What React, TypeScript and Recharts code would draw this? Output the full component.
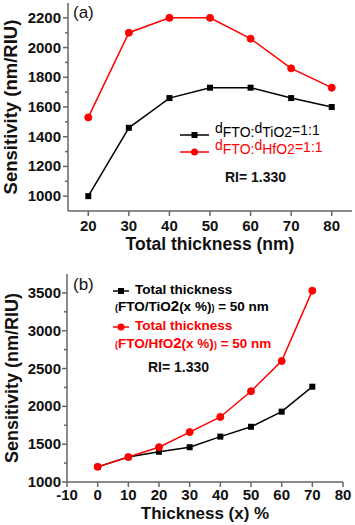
import { LineChart, Line, XAxis, YAxis, Legend } from "recharts";

const RED = "#ff0000";
const BLACK = "#000000";
const FRAME = "#666666";
const FONT = '"Liberation Sans", Arial, Helvetica, sans-serif';

// ─── (a) sensitivity vs total thickness ──────────────────────────────────
const thicknessA = [20, 30, 40, 50, 60, 70, 80];
const sensTiO2A = [1000, 1460, 1660, 1730, 1730, 1660, 1600];
const sensHfO2A = [1530, 2100, 2200, 2200, 2060, 1860, 1730];
const xTicksA = [20, 30, 40, 50, 60, 70, 80];
const yMajorA = [1000, 1200, 1400, 1600, 1800, 2000, 2200];
const yMinorA = [1100, 1300, 1500, 1700, 1900, 2100];

// ─── (b) sensitivity vs oxide fraction ───────────────────────────────────
const fractionB = [0, 10, 20, 30, 40, 50, 60, 70];
const sensTiO2B = [1200, 1330, 1400, 1460, 1600, 1730, 1930, 2260];
const sensHfO2B = [1200, 1330, 1460, 1660, 1860, 2200, 2600, 3530];
const xTicksB = [-10, 0, 10, 20, 30, 40, 50, 60, 70, 80];
const yMajorB = [1000, 1500, 2000, 2500, 3000, 3500];
const yMinorB = [1250, 1750, 2250, 2750, 3250];

const rowsA = thicknessA.map((x, i) => ({ x, tio2: sensTiO2A[i], hfo2: sensHfO2A[i] }));
const rowsB = fractionB.map((x, i) => ({ x, tio2: sensTiO2B[i], hfo2: sensHfO2B[i] }));

function SquareDot(props: any) {
  const { cx, cy, index } = props;
  return <rect key={`sq-${index}`} x={cx - 3} y={cy - 3} width={6} height={6} fill={BLACK} />;
}

function makeXTick(majors: number[], gap: number) {
  return function XTick(props: any) {
    const { x, y, payload } = props;
    const major = majors.includes(payload.value);
    return (
      <g>
        <line x1={x} x2={x} y1={y} y2={y + (major ? 5 : 3)} stroke={FRAME} strokeWidth={1.5} />
        {major && (
          <text x={x} y={y + gap} textAnchor="middle" fontFamily={FONT} fontWeight="bold" fontSize={15} fill="#111">
            {payload.value}
          </text>
        )}
      </g>
    );
  };
}

function makeYTick(majors: number[], gap: number) {
  return function YTick(props: any) {
    const { x, y, payload } = props;
    const major = majors.includes(payload.value);
    return (
      <g>
        <line x1={x} x2={x - (major ? 5 : 3)} y1={y} y2={y} stroke={FRAME} strokeWidth={1.5} />
        {major && (
          <text x={x - gap} y={y + 5} textAnchor="end" fontFamily={FONT} fontWeight="bold" fontSize={15} fill="#111">
            {payload.value}
          </text>
        )}
      </g>
    );
  };
}

function xTitle(text: string, gap: number, size: number) {
  return (props: any) => {
    const { x, y, width } = props.viewBox;
    return (
      <text x={x + width / 2} y={y + gap} textAnchor="middle" fontFamily={FONT} fontWeight="bold" fontSize={size} fill="#111">
        {text}
      </text>
    );
  };
}

function yTitle(text: string, dx: number, size: number) {
  return (props: any) => {
    const { x, y, height } = props.viewBox;
    return (
      <text
        transform={`translate(${x + dx}, ${y + height / 2}) rotate(-90)`}
        textAnchor="middle"
        fontFamily={FONT}
        fontWeight="bold"
        fontSize={size}
        fill="#111"
      >
        {text}
      </text>
    );
  };
}

function Marker({ color, shape, w }: { color: string; shape: "square" | "circle"; w: number }) {
  return (
    <svg width={w} height={10} style={{ display: "block" }}>
      <line x1={0} x2={w} y1={5} y2={5} stroke={color} strokeWidth={1.5} />
      {shape === "square" ? (
        <rect x={w / 2 - 3} y={2} width={6} height={6} fill={color} />
      ) : (
        <circle cx={w / 2} cy={5} r={3.5} fill={color} />
      )}
    </svg>
  );
}

const abs = (left: number, top: number, extra: any = {}) => ({
  position: "absolute" as const,
  left,
  top,
  whiteSpace: "nowrap" as const,
  lineHeight: "18px",
  ...extra,
});

// legend + annotations for (a)
function LegendA() {
  const ratio = (oxide: string) => (
    <>
      <span style={{ position: "relative", top: -4 }}>d</span>FTO:
      <span style={{ position: "relative", top: -4 }}>d</span>
      {oxide}
      <span style={{ position: "relative", top: -2 }}>=1:1</span>
    </>
  );
  return (
    <div style={{ position: "relative", width: 355, height: 260, fontFamily: FONT }}>
      <div style={abs(73, 3, { fontSize: 17, lineHeight: "20px", color: "#111" })}>(a)</div>
      <div style={abs(180, 130)}>
        <Marker color={BLACK} shape="square" w={29} />
      </div>
      <div style={abs(215, 124, { fontSize: 14, lineHeight: "16px", color: BLACK })}>{ratio("TiO2")}</div>
      <div style={abs(180, 147)}>
        <Marker color={RED} shape="circle" w={29} />
      </div>
      <div style={abs(215, 141, { fontSize: 14, lineHeight: "16px", color: RED })}>{ratio("HfO2")}</div>
      <div style={abs(225, 168, { fontSize: 14, fontWeight: "bold", color: "#111" })}>RI= 1.330</div>
    </div>
  );
}

// legend + annotations for (b)
function LegendB() {
  const composition = (oxide: string) => (
    <>
      <span style={{ fontSize: 9 }}>(</span>FTO/{oxide}
      <span style={{ fontSize: 15 }}>2</span>(x %)<span style={{ fontSize: 9 }}>)</span> = 50 nm
    </>
  );
  const row = (left: number, top: number, color: string) => abs(left, top, { color, lineHeight: "14px" });
  return (
    <div style={{ position: "relative", width: 355, height: 265, fontFamily: FONT, fontWeight: "bold", fontSize: 13.5 }}>
      <div style={abs(73, 15, { fontSize: 17, fontWeight: "normal", lineHeight: "20px", color: "#111" })}>(b)</div>
      <div style={abs(113, 26)}>
        <Marker color={BLACK} shape="square" w={16} />
      </div>
      <div style={row(135, 23, BLACK)}>Total thickness</div>
      <div style={row(115, 39, BLACK)}>{composition("TiO")}</div>
      <div style={abs(113, 62)}>
        <Marker color={RED} shape="circle" w={16} />
      </div>
      <div style={row(135, 59, RED)}>Total thickness</div>
      <div style={row(115, 76, RED)}>{composition("HfO")}</div>
      <div style={abs(148, 98, { fontSize: 14, color: "#111" })}>RI= 1.330</div>
    </div>
  );
}

export default function App() {
  return (
    <div style={{ position: "absolute", left: 0, top: 0, width: 355, height: 525, background: "#fff" }}>
      <LineChart width={355} height={260} data={rowsA} margin={{ top: 3, right: 3, bottom: 0, left: 0 }}>
        <XAxis
          dataKey="x"
          type="number"
          domain={[15, 85]}
          ticks={xTicksA}
          interval={0}
          height={49}
          tickSize={0}
          tickMargin={0}
          tickLine={false}
          tick={makeXTick(xTicksA, 20)}
          axisLine={{ stroke: FRAME, strokeWidth: 1.5 }}
          label={xTitle("Total thickness (nm)", 39, 17.5)}
        />
        <XAxis xAxisId="top" orientation="top" type="number" domain={[15, 85]} height={0} tick={false} tickLine={false} axisLine={{ stroke: FRAME, strokeWidth: 1.5 }} />
        <YAxis
          type="number"
          domain={[900, 2300]}
          ticks={[...yMajorA, ...yMinorA].sort((a, b) => a - b)}
          interval={0}
          width={68}
          tickSize={0}
          tickMargin={0}
          tickLine={false}
          tick={makeYTick(yMajorA, 7)}
          axisLine={{ stroke: FRAME, strokeWidth: 1.5 }}
          label={yTitle("Sensitivity (nm/RIU)", 17, 18.5)}
        />
        <YAxis yAxisId="right" orientation="right" type="number" domain={[900, 2300]} width={0} tick={false} tickLine={false} axisLine={{ stroke: FRAME, strokeWidth: 1.5 }} />
        <Legend verticalAlign="middle" align="center" wrapperStyle={{ left: 0, top: 0, width: 355, height: 260 }} content={() => <LegendA />} />
        <Line dataKey="tio2" stroke={BLACK} strokeWidth={1.5} dot={(p: any) => <SquareDot {...p} />} isAnimationActive={false} />
        <Line dataKey="hfo2" stroke={RED} strokeWidth={1.5} dot={{ r: 3.5, fill: RED, stroke: RED, strokeWidth: 1 }} isAnimationActive={false} />
      </LineChart>
      <LineChart width={355} height={265} data={rowsB} margin={{ top: 14, right: 12, bottom: 0, left: 0 }}>
        <XAxis
          dataKey="x"
          type="number"
          domain={[-10, 80]}
          ticks={xTicksB}
          interval={0}
          height={43}
          tickSize={0}
          tickMargin={0}
          tickLine={false}
          tick={makeXTick(xTicksB, 18)}
          axisLine={{ stroke: FRAME, strokeWidth: 1.5 }}
          label={xTitle("Thickness (x) %", 37, 17)}
        />
        <XAxis xAxisId="top" orientation="top" type="number" domain={[-10, 80]} height={0} tick={false} tickLine={false} axisLine={{ stroke: FRAME, strokeWidth: 1.5 }} />
        <YAxis
          type="number"
          domain={[1000, 3750]}
          ticks={[...yMajorB, ...yMinorB].sort((a, b) => a - b)}
          interval={0}
          width={67}
          tickSize={0}
          tickMargin={0}
          tickLine={false}
          tick={makeYTick(yMajorB, 6)}
          axisLine={{ stroke: FRAME, strokeWidth: 1.5 }}
          label={yTitle("Sensitivity (nm/RIU)", 18, 18)}
        />
        <YAxis yAxisId="right" orientation="right" type="number" domain={[1000, 3750]} width={0} tick={false} tickLine={false} axisLine={{ stroke: FRAME, strokeWidth: 1.5 }} />
        <Legend verticalAlign="middle" align="center" wrapperStyle={{ left: 0, top: 0, width: 355, height: 265 }} content={() => <LegendB />} />
        <Line dataKey="tio2" stroke={BLACK} strokeWidth={1.5} dot={(p: any) => <SquareDot {...p} />} isAnimationActive={false} />
        <Line dataKey="hfo2" stroke={RED} strokeWidth={1.5} dot={{ r: 3.5, fill: RED, stroke: RED, strokeWidth: 1 }} isAnimationActive={false} />
      </LineChart>
    </div>
  );
}
